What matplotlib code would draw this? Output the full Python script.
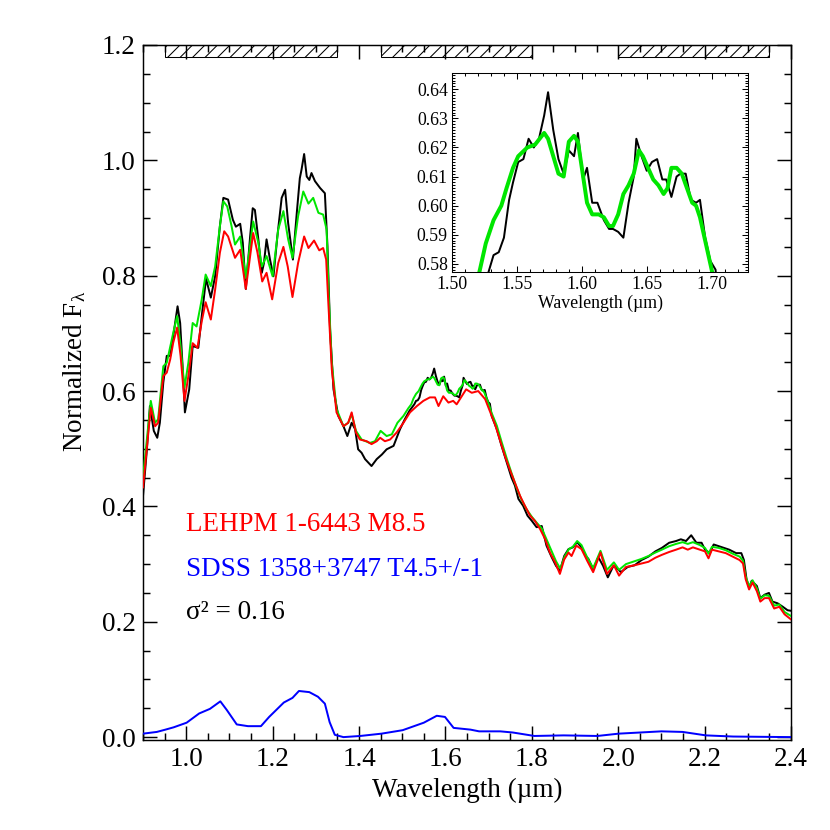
import matplotlib
matplotlib.use('Agg')
import matplotlib.pyplot as plt
from matplotlib.patches import Rectangle
from matplotlib.ticker import MultipleLocator, FormatStrFormatter

plt.rcParams['font.family'] = ['Liberation Serif', 'DejaVu Serif']
plt.rcParams['mathtext.fontset'] = 'custom'
plt.rcParams['mathtext.rm'] = 'Liberation Serif'
plt.rcParams['mathtext.it'] = 'Liberation Serif:italic'
plt.rcParams['hatch.linewidth'] = 1.0

# observed spectrum (black)
wave_obs = [0.900, 0.909, 0.916, 0.925, 0.933, 0.939, 0.947, 0.955, 0.963, 0.970,
            0.980, 0.986, 0.992, 0.997, 1.007, 1.015, 1.028, 1.036, 1.046, 1.057,
            1.067, 1.078, 1.086, 1.097, 1.108, 1.115, 1.125, 1.131, 1.138, 1.148,
            1.154, 1.159, 1.167, 1.175, 1.180, 1.186, 1.194, 1.202, 1.211, 1.221,
            1.229, 1.236, 1.247, 1.256, 1.263, 1.267, 1.273, 1.279, 1.285, 1.290,
            1.298, 1.310, 1.321, 1.327, 1.333, 1.341, 1.352, 1.364, 1.373, 1.383,
            1.391, 1.398, 1.406, 1.414, 1.429, 1.441, 1.453, 1.464, 1.480, 1.495,
            1.506, 1.517, 1.528, 1.532, 1.536, 1.540, 1.544, 1.547, 1.551, 1.555,
            1.559, 1.563, 1.567, 1.571, 1.574, 1.578, 1.582, 1.586, 1.590, 1.594,
            1.597, 1.601, 1.604, 1.608, 1.612, 1.617, 1.621, 1.624, 1.628, 1.632,
            1.636, 1.640, 1.642, 1.646, 1.650, 1.654, 1.658, 1.662, 1.665, 1.669,
            1.673, 1.676, 1.680, 1.684, 1.688, 1.691, 1.695, 1.699, 1.703, 1.707,
            1.719, 1.730, 1.742, 1.753, 1.761, 1.769, 1.780, 1.790, 1.800, 1.811,
            1.823, 1.834, 1.846, 1.856, 1.865, 1.875, 1.885, 1.895, 1.905, 1.915,
            1.925, 1.931, 1.942, 1.954, 1.965, 1.976, 1.989, 2.000, 2.006, 2.022,
            2.038, 2.054, 2.070, 2.086, 2.101, 2.118, 2.134, 2.145, 2.157, 2.169,
            2.181, 2.193, 2.201, 2.212, 2.221, 2.233, 2.245, 2.257, 2.273, 2.285,
            2.291, 2.297, 2.303, 2.309, 2.321, 2.329, 2.339, 2.349, 2.357, 2.369,
            2.381, 2.392, 2.400]
flux_obs = [0.418, 0.499, 0.574, 0.531, 0.519, 0.545, 0.615, 0.661, 0.661, 0.695,
            0.747, 0.718, 0.638, 0.563, 0.603, 0.678, 0.675, 0.730, 0.795, 0.762,
            0.799, 0.886, 0.935, 0.932, 0.897, 0.885, 0.890, 0.857, 0.777, 0.868,
            0.917, 0.914, 0.863, 0.805, 0.822, 0.863, 0.828, 0.799, 0.868, 0.935,
            0.949, 0.891, 0.828, 0.909, 0.969, 0.984, 1.011, 0.972, 0.966, 0.978,
            0.964, 0.952, 0.943, 0.851, 0.707, 0.603, 0.557, 0.539, 0.522, 0.545,
            0.534, 0.499, 0.493, 0.482, 0.470, 0.482, 0.490, 0.499, 0.505, 0.534,
            0.551, 0.566, 0.577, 0.583, 0.584, 0.589, 0.602, 0.608, 0.615, 0.616,
            0.623, 0.620, 0.623, 0.631, 0.639, 0.626, 0.616, 0.611, 0.619, 0.617,
            0.625, 0.609, 0.613, 0.601, 0.601, 0.595, 0.592, 0.592, 0.591, 0.589,
            0.601, 0.610, 0.623, 0.617, 0.612, 0.615, 0.616, 0.609, 0.609, 0.603,
            0.610, 0.611, 0.611, 0.602, 0.601, 0.602, 0.589, 0.581, 0.578, 0.557,
            0.534, 0.505, 0.476, 0.450, 0.436, 0.413, 0.401, 0.384, 0.375, 0.364,
            0.366, 0.332, 0.312, 0.297, 0.288, 0.314, 0.326, 0.329, 0.338, 0.329,
            0.314, 0.309, 0.291, 0.312, 0.297, 0.277, 0.297, 0.291, 0.286, 0.295,
            0.298, 0.307, 0.313, 0.322, 0.328, 0.337, 0.340, 0.343, 0.340, 0.350,
            0.337, 0.337, 0.325, 0.319, 0.334, 0.331, 0.328, 0.325, 0.319, 0.319,
            0.307, 0.274, 0.259, 0.271, 0.262, 0.241, 0.247, 0.250, 0.235, 0.232,
            0.226, 0.220, 0.219]

# primary template LEHPM 1-6443 (red)
wave_prim = [0.900, 0.918, 0.928, 0.935, 0.947, 0.955, 0.963, 0.970, 0.979, 0.987,
             0.996, 1.005, 1.015, 1.026, 1.036, 1.045, 1.057, 1.067, 1.078, 1.088,
             1.097, 1.113, 1.125, 1.138, 1.155, 1.165, 1.176, 1.186, 1.199, 1.213,
             1.225, 1.235, 1.246, 1.259, 1.273, 1.283, 1.296, 1.308, 1.317, 1.324,
             1.329, 1.337, 1.348, 1.364, 1.375, 1.383, 1.393, 1.402, 1.418, 1.429,
             1.441, 1.449, 1.460, 1.472, 1.487, 1.503, 1.518, 1.534, 1.549, 1.564,
             1.576, 1.584, 1.595, 1.607, 1.618, 1.626, 1.638, 1.648, 1.661, 1.676,
             1.692, 1.703, 1.715, 1.726, 1.738, 1.750, 1.761, 1.773, 1.784, 1.796,
             1.807, 1.819, 1.831, 1.842, 1.854, 1.865, 1.875, 1.885, 1.892, 1.903,
             1.915, 1.928, 1.942, 1.959, 1.974, 1.990, 2.002, 2.018, 2.038, 2.054,
             2.070, 2.086, 2.101, 2.118, 2.134, 2.149, 2.161, 2.173, 2.189, 2.201,
             2.209, 2.217, 2.233, 2.249, 2.265, 2.281, 2.289, 2.295, 2.303, 2.311,
             2.321, 2.329, 2.339, 2.349, 2.361, 2.373, 2.385, 2.400]
flux_prim = [0.433, 0.571, 0.539, 0.545, 0.626, 0.632, 0.655, 0.684, 0.710, 0.661,
             0.583, 0.626, 0.683, 0.675, 0.721, 0.754, 0.724, 0.776, 0.840, 0.877,
             0.868, 0.831, 0.845, 0.777, 0.874, 0.840, 0.790, 0.805, 0.759, 0.822,
             0.850, 0.816, 0.763, 0.822, 0.868, 0.848, 0.861, 0.844, 0.848, 0.828,
             0.753, 0.638, 0.563, 0.539, 0.545, 0.563, 0.528, 0.516, 0.513, 0.508,
             0.513, 0.519, 0.513, 0.516, 0.528, 0.545, 0.563, 0.574, 0.583, 0.589,
             0.589, 0.574, 0.591, 0.580, 0.583, 0.577, 0.591, 0.603, 0.597, 0.600,
             0.586, 0.565, 0.542, 0.516, 0.487, 0.462, 0.441, 0.418, 0.401, 0.384,
             0.375, 0.361, 0.343, 0.320, 0.303, 0.283, 0.308, 0.320, 0.314, 0.332,
             0.326, 0.306, 0.286, 0.320, 0.283, 0.298, 0.280, 0.295, 0.298, 0.301,
             0.304, 0.311, 0.316, 0.321, 0.325, 0.329, 0.325, 0.329, 0.325, 0.322,
             0.310, 0.325, 0.322, 0.319, 0.313, 0.307, 0.301, 0.274, 0.256, 0.268,
             0.253, 0.235, 0.241, 0.241, 0.223, 0.226, 0.213, 0.204]

# composite binary fit (green)
wave_comb = [0.900, 0.918, 0.928, 0.935, 0.947, 0.955, 0.970, 0.979, 0.987, 0.996,
             1.005, 1.015, 1.024, 1.036, 1.045, 1.057, 1.067, 1.078, 1.086, 1.095,
             1.105, 1.113, 1.125, 1.138, 1.155, 1.167, 1.175, 1.186, 1.200, 1.213,
             1.225, 1.236, 1.246, 1.259, 1.271, 1.283, 1.294, 1.306, 1.317, 1.325,
             1.330, 1.337, 1.348, 1.364, 1.375, 1.383, 1.393, 1.406, 1.425, 1.437,
             1.450, 1.464, 1.476, 1.489, 1.503, 1.514, 1.521, 1.526, 1.532, 1.538,
             1.542, 1.547, 1.551, 1.558, 1.564, 1.571, 1.574, 1.582, 1.586, 1.590,
             1.594, 1.597, 1.601, 1.604, 1.608, 1.613, 1.617, 1.621, 1.624, 1.628,
             1.632, 1.636, 1.640, 1.644, 1.647, 1.651, 1.655, 1.659, 1.663, 1.666,
             1.669, 1.673, 1.677, 1.681, 1.685, 1.688, 1.691, 1.695, 1.700, 1.707,
             1.719, 1.730, 1.742, 1.753, 1.765, 1.776, 1.788, 1.800, 1.811, 1.823,
             1.834, 1.846, 1.856, 1.866, 1.876, 1.886, 1.895, 1.905, 1.915, 1.928,
             1.942, 1.959, 1.974, 1.990, 2.002, 2.018, 2.038, 2.054, 2.070, 2.086,
             2.101, 2.118, 2.134, 2.149, 2.161, 2.173, 2.189, 2.201, 2.209, 2.217,
             2.233, 2.249, 2.265, 2.281, 2.289, 2.295, 2.303, 2.311, 2.321, 2.329,
             2.339, 2.349, 2.361, 2.373, 2.385, 2.400]
flux_comb = [0.450, 0.583, 0.545, 0.551, 0.643, 0.649, 0.701, 0.730, 0.678, 0.606,
             0.649, 0.718, 0.712, 0.759, 0.802, 0.782, 0.816, 0.886, 0.929, 0.920,
             0.886, 0.854, 0.868, 0.796, 0.894, 0.857, 0.816, 0.834, 0.799, 0.880,
             0.912, 0.863, 0.831, 0.903, 0.946, 0.925, 0.935, 0.909, 0.906, 0.880,
             0.764, 0.649, 0.569, 0.539, 0.545, 0.560, 0.531, 0.516, 0.510, 0.513,
             0.531, 0.522, 0.525, 0.545, 0.557, 0.570, 0.577, 0.587, 0.595, 0.600,
             0.606, 0.613, 0.617, 0.620, 0.621, 0.625, 0.623, 0.611, 0.610, 0.622,
             0.624, 0.622, 0.610, 0.601, 0.597, 0.597, 0.596, 0.593, 0.593, 0.597,
             0.604, 0.607, 0.611, 0.619, 0.617, 0.613, 0.609, 0.607, 0.604, 0.606,
             0.613, 0.613, 0.611, 0.606, 0.601, 0.600, 0.596, 0.588, 0.578, 0.562,
             0.540, 0.512, 0.483, 0.458, 0.432, 0.412, 0.395, 0.382, 0.372, 0.362,
             0.343, 0.322, 0.305, 0.292, 0.313, 0.326, 0.330, 0.340, 0.333, 0.312,
             0.293, 0.323, 0.290, 0.303, 0.290, 0.300, 0.305, 0.309, 0.314, 0.320,
             0.325, 0.331, 0.335, 0.338, 0.335, 0.338, 0.333, 0.328, 0.318, 0.330,
             0.328, 0.324, 0.318, 0.313, 0.306, 0.279, 0.261, 0.272, 0.258, 0.240,
             0.246, 0.245, 0.228, 0.230, 0.217, 0.210]

# secondary template SDSS 1358+3747 (blue), scaled
wave_sec = [0.900, 0.932, 0.952, 0.971, 1.001, 1.030, 1.055, 1.079, 1.094, 1.117,
            1.143, 1.173, 1.192, 1.226, 1.246, 1.261, 1.285, 1.305, 1.321, 1.332,
            1.344, 1.364, 1.403, 1.452, 1.501, 1.550, 1.580, 1.599, 1.619, 1.658,
            1.678, 1.727, 1.756, 1.806, 1.874, 1.952, 2.001, 2.100, 2.149, 2.203,
            2.266, 2.400]
flux_sec = [0.006, 0.009, 0.013, 0.017, 0.025, 0.041, 0.049, 0.062, 0.047, 0.022,
            0.019, 0.019, 0.035, 0.060, 0.068, 0.080, 0.078, 0.070, 0.058, 0.026,
            0.004, 0.000, 0.002, 0.006, 0.012, 0.025, 0.037, 0.035, 0.016, 0.013,
            0.010, 0.010, 0.008, 0.002, 0.003, 0.002, 0.006, 0.010, 0.009, 0.003,
            0.001, 0.000]

# spectral regions used in the fit (hatched bars at top)
fit_regions = [(0.95, 1.35), (1.45, 1.80), (2.00, 2.35)]

name_prim = 'LEHPM 1-6443 M8.5'
name_sec = 'SDSS 1358+3747 T4.5+/-1'
chi2_text = '\u03c3\u00b2 = 0.16'

green = '#00e600'

fig = plt.figure(figsize=(830 / 75, 830 / 75), dpi=75)
ax = fig.add_axes([143 / 830, 90 / 830, 648 / 830, 695 / 830])

ax.plot(wave_obs, flux_obs, color='black', lw=1.9, zorder=2)
ax.plot(wave_comb, flux_comb, color=green, lw=1.9, zorder=3)
ax.plot(wave_prim, flux_prim, color='red', lw=1.9, zorder=4)
ax.plot(wave_sec, flux_sec, color='blue', lw=1.9, zorder=4)

for a, b in fit_regions:
    ax.add_patch(Rectangle((a, 1.18), b - a, 0.02, facecolor='white',
                           edgecolor='black', hatch='//', lw=1.0, zorder=1))

ax.set_xlim(0.9, 2.4)
ax.set_ylim(-0.005, 1.2)
ax.xaxis.set_major_locator(MultipleLocator(0.2))
ax.xaxis.set_minor_locator(MultipleLocator(0.05))
ax.yaxis.set_major_locator(MultipleLocator(0.2))
ax.yaxis.set_minor_locator(MultipleLocator(0.05))
ax.xaxis.set_major_formatter(FormatStrFormatter('%.1f'))
ax.yaxis.set_major_formatter(FormatStrFormatter('%.1f'))
ax.tick_params(which='both', direction='in', top=True, right=True, width=1.4,
               labelsize=26)
ax.tick_params(which='major', length=13.5, pad=7)
ax.tick_params(which='minor', length=6.7)
for s in ax.spines.values():
    s.set_linewidth(1.4)

ax.set_xlabel('Wavelength (\u00b5m)', fontsize=26)
ax.set_ylabel(r'Normalized F$_{\mathrm{\lambda}}$', fontsize=26)
ax.xaxis.set_label_coords(0.5, -0.055)
ax.yaxis.set_label_coords(-0.085, 0.53)

ax.text(1.0, 0.357, name_prim, color='red', fontsize=26, va='baseline')
ax.text(1.0, 0.280, name_sec, color='blue', fontsize=26, va='baseline')
ax.text(1.0, 0.205, chi2_text, color='black', fontsize=26, va='baseline')

# inset zoom on the H-band peak
ins = fig.add_axes([452 / 830, 558 / 830, 296 / 830, 199 / 830])
ins.plot(wave_obs, flux_obs, color='black', lw=1.9)
ins.plot(wave_comb, flux_comb, color=green, lw=3.8)
ins.set_xlim(1.5, 1.728)
ins.set_ylim(0.5772, 0.6456)
ins.xaxis.set_major_locator(MultipleLocator(0.05))
ins.xaxis.set_minor_locator(MultipleLocator(0.01))
ins.yaxis.set_major_locator(MultipleLocator(0.01))
ins.yaxis.set_minor_locator(MultipleLocator(0.001))
ins.xaxis.set_major_formatter(FormatStrFormatter('%.2f'))
ins.yaxis.set_major_formatter(FormatStrFormatter('%.2f'))
ins.tick_params(which='both', direction='in', top=True, right=True, width=1.0,
                labelsize=17, pad=4)
ins.tick_params(which='major', length=6)
ins.tick_params(which='minor', length=3)
for s in ins.spines.values():
    s.set_linewidth(1.0)
ins.set_xlabel('Wavelength (\u00b5m)', fontsize=17, labelpad=1)

fig.savefig('out.png', dpi=75)
